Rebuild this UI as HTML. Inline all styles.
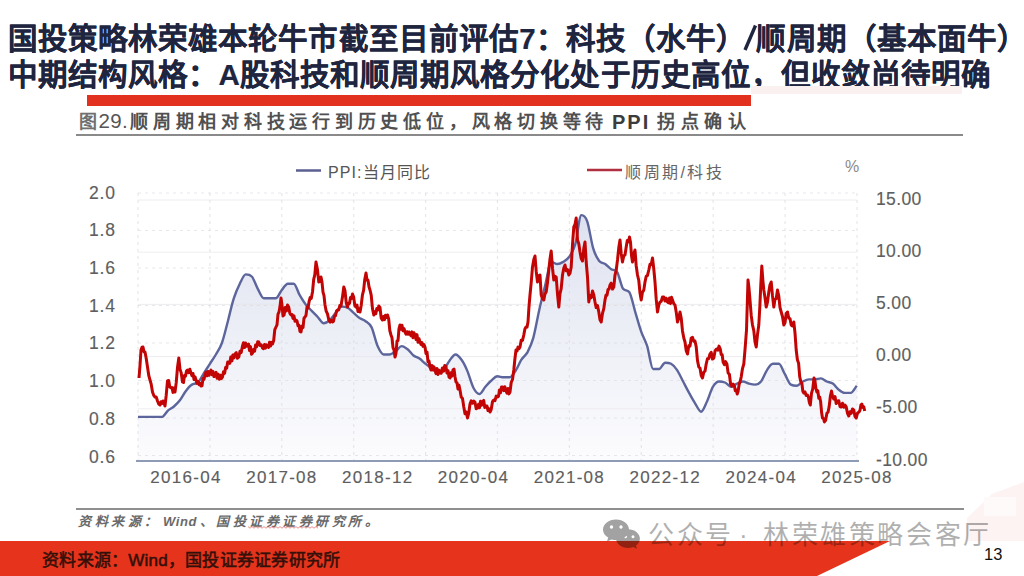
<!DOCTYPE html>
<html lang="zh-CN"><head><meta charset="utf-8">
<style>
html,body{margin:0;padding:0;}
body{width:1024px;height:576px;overflow:hidden;position:relative;background:#fff;font-family:"Liberation Sans",sans-serif;}
.t{position:absolute;white-space:nowrap;line-height:1;}
#t1{left:7.5px;top:23.5px;font-size:29.5px;font-weight:bold;color:#20253f;letter-spacing:0.1px;-webkit-text-stroke:0.2px #20253f;}
#t2{left:8px;top:60px;font-size:29.5px;font-weight:bold;color:#20253f;letter-spacing:0.06px;-webkit-text-stroke:0.2px #20253f;}
#bar{position:absolute;left:87px;top:95px;width:664px;height:11px;background:#e2321f;}
.cap{top:113px;font-size:18px;color:#505050;font-weight:bold;}
.capc{letter-spacing:4.77px;}
#capline{position:absolute;left:76px;top:134px;width:887px;height:2px;background:#8a8a8a;}
.src{top:514.5px;font-size:13px;color:#6a6a6a;font-style:italic;font-weight:bold;letter-spacing:3.5px;}
#srcline{position:absolute;left:76px;top:508px;width:888px;height:2px;background:#8f8f8f;}
#band{position:absolute;left:0;top:0;}
#foot{left:42px;top:551.5px;font-size:17px;color:#34100a;letter-spacing:0.25px;-webkit-text-stroke:0.55px #34100a;}
#pg{left:984px;top:545.5px;font-size:16.5px;color:#111;}
.wm{top:521.5px;font-size:26px;color:#000;opacity:0.31;letter-spacing:2.6px;}
svg text{font-family:"Liberation Sans",sans-serif;}
</style></head><body>
<svg id="band" width="1024" height="576" viewBox="0 0 1024 576">
  <polygon points="967,541 967,518 992,494 1024,482 1024,541" fill="#fdf3f3"/>
  <rect x="984" y="497" width="32" height="19" fill="#fefafa"/>
  <polygon points="0,541 890,541 817,576 0,576" fill="#e5341b"/>
</svg>
<div class="t" id="t1">国投策略林荣雄本轮牛市截至目前评估7：科技（水牛）<span style="display:inline-block;width:10px"></span>顺周期（基本面牛）</div>
<div class="t" id="t2">中期结构风格：A股科技和顺周期风格分化处于历史高位，但收敛尚待明确</div>
<div style="position:absolute;left:751px;top:86px;width:211px;height:8px;background:#fbf0f0"></div>
<div id="bar"></div>
<svg style="position:absolute;left:0;top:0" width="1024" height="576"><line x1="745" y1="50" x2="755.5" y2="25.5" stroke="#20253f" stroke-width="3.4"/></svg>
<div class="t cap" style="left:79px;color:#707070">图</div>
<div class="t cap" style="left:98.5px;top:111px;font-size:20.5px;font-weight:normal;letter-spacing:0.3px;color:#555">29.</div>
<div class="t cap capc" style="left:130px">顺周期相对科技运行到历史低位，风格切换等待</div>
<div class="t cap" style="left:612px;top:112px;font-size:20px;letter-spacing:2px;color:#3c3c3c">PPI</div>
<div class="t cap" style="left:657px;letter-spacing:5.6px">拐点确认</div>
<div id="capline"></div>
<svg style="position:absolute;left:0;top:0" width="1024" height="576" viewBox="0 0 1024 576">
  <defs>
    <linearGradient id="ag" x1="0" y1="0" x2="0" y2="1" gradientUnits="objectBoundingBox">
      <stop offset="0" stop-color="#dee1f0"/>
      <stop offset="0.45" stop-color="#eceef6"/>
      <stop offset="1" stop-color="#fcfcfe"/>
    </linearGradient>
  </defs>
  <path d="M138.0,416.9 C140.0,416.9 142.0,416.9 144.0,416.9 C146.0,416.9 148.0,416.9 150.0,416.9 C152.0,416.9 154.0,416.9 156.0,416.9 C158.0,416.9 160.0,416.9 162.0,416.9 C164.0,416.9 166.0,412.4 167.9,410.6 C169.9,408.9 171.9,408.2 173.9,406.5 C175.9,404.7 177.9,402.8 179.9,400.2 C181.9,397.6 183.9,393.5 185.9,390.9 C187.9,388.3 189.9,385.8 191.9,384.6 C193.9,383.4 195.9,384.2 197.9,382.5 C199.9,380.9 201.9,376.3 203.9,373.2 C205.9,370.1 207.9,366.9 209.9,363.8 C211.9,360.7 213.9,357.9 215.9,354.5 C217.9,351.0 219.9,348.6 221.9,343.0 C223.9,337.5 225.9,328.6 227.9,321.2 C229.8,313.7 231.8,304.5 233.8,298.3 C235.8,292.1 237.8,287.7 239.8,283.7 C241.8,279.8 243.8,274.4 245.8,274.4 C247.8,274.4 249.8,274.4 251.8,276.5 C253.8,278.5 255.8,285.3 257.8,288.9 C259.8,292.6 261.8,298.3 263.8,298.3 C265.8,298.3 267.8,298.3 269.8,298.3 C271.8,298.3 273.8,298.3 275.8,298.3 C277.8,298.3 279.8,292.4 281.8,290.0 C283.8,287.6 285.8,283.7 287.8,283.7 C289.7,283.7 291.7,283.7 293.7,283.7 C295.7,283.7 297.7,291.7 299.7,295.2 C301.7,298.6 303.7,301.9 305.7,304.5 C307.7,307.1 309.7,308.7 311.7,310.8 C313.7,312.9 315.7,314.9 317.7,317.0 C319.7,319.1 321.7,323.3 323.7,323.3 C325.7,323.3 327.7,321.9 329.7,320.1 C331.7,318.4 333.7,315.1 335.7,312.9 C337.7,310.6 339.7,306.6 341.7,306.6 C343.7,306.6 345.7,306.6 347.6,307.7 C349.6,308.7 351.6,311.1 353.6,312.9 C355.6,314.6 357.6,316.7 359.6,318.1 C361.6,319.4 363.6,319.6 365.6,321.2 C367.6,322.7 369.6,323.3 371.6,327.4 C373.6,331.6 375.6,341.6 377.6,346.1 C379.6,350.6 381.6,354.5 383.6,354.5 C385.6,354.5 387.6,354.5 389.6,354.5 C391.6,354.5 393.6,352.7 395.6,351.3 C397.6,350.0 399.6,346.1 401.6,346.1 C403.6,346.1 405.6,347.7 407.6,349.3 C409.5,350.8 411.5,353.9 413.5,355.5 C415.5,357.1 417.5,357.2 419.5,358.6 C421.5,360.0 423.5,362.3 425.5,363.8 C427.5,365.4 429.5,366.6 431.5,368.0 C433.5,369.4 435.5,372.1 437.5,372.1 C439.5,372.1 441.5,372.0 443.5,370.1 C445.5,368.2 447.5,363.3 449.5,360.7 C451.5,358.1 453.5,354.5 455.5,354.5 C457.5,354.5 459.5,356.9 461.5,359.7 C463.5,362.4 465.5,366.4 467.4,371.1 C469.4,375.8 471.4,383.9 473.4,387.7 C475.4,391.6 477.4,394.0 479.4,394.0 C481.4,394.0 483.4,389.0 485.4,386.7 C487.4,384.4 489.4,382.2 491.4,380.5 C493.4,378.7 495.4,376.3 497.4,376.3 C499.4,376.3 501.4,377.3 503.4,377.3 C505.4,377.3 507.4,377.3 509.4,377.3 C511.4,377.3 513.4,374.0 515.4,371.1 C517.4,368.2 519.4,362.8 521.4,359.7 C523.4,356.5 525.4,356.0 527.4,352.4 C529.3,348.7 531.3,344.9 533.3,337.8 C535.3,330.7 537.3,318.6 539.3,309.7 C541.3,300.9 543.3,292.8 545.3,284.8 C547.3,276.8 549.3,261.9 551.3,261.9 C553.3,261.9 555.3,264.0 557.3,264.0 C559.3,264.0 561.3,263.1 563.3,261.9 C565.3,260.7 567.3,259.6 569.3,256.7 C571.3,253.8 573.3,251.2 575.3,244.2 C577.3,237.3 579.3,215.1 581.3,215.1 C583.3,215.1 585.3,215.8 587.2,221.3 C589.2,226.9 591.2,241.8 593.2,248.4 C595.2,255.0 597.2,258.3 599.2,260.9 C601.2,263.5 603.2,262.6 605.2,264.0 C607.2,265.4 609.2,268.0 611.2,269.2 C613.2,270.4 615.2,269.4 617.2,272.3 C619.2,275.2 621.2,286.9 623.2,288.9 C625.2,291.0 627.2,289.7 629.2,292.1 C631.2,294.4 633.2,305.2 635.2,311.8 C637.2,318.4 639.2,325.9 641.2,331.6 C643.2,337.3 645.2,339.9 647.2,346.1 C649.1,352.4 651.1,369.0 653.1,369.0 C655.1,369.0 657.1,369.0 659.1,369.0 C661.1,369.0 663.1,362.8 665.1,362.8 C667.1,362.8 669.1,362.8 671.1,363.8 C673.1,364.9 675.1,367.1 677.1,370.1 C679.1,373.0 681.1,377.7 683.1,381.5 C685.1,385.3 687.1,389.3 689.1,392.9 C691.1,396.6 693.1,400.2 695.1,403.3 C697.1,406.5 699.1,411.7 701.1,411.7 C703.1,411.7 705.1,405.4 707.1,401.3 C709.0,397.1 711.0,390.0 713.0,386.7 C715.0,383.4 717.0,381.5 719.0,381.5 C721.0,381.5 723.0,381.7 725.0,382.5 C727.0,383.4 729.0,386.7 731.0,386.7 C733.0,386.7 735.0,384.4 737.0,383.6 C739.0,382.7 741.0,381.5 743.0,381.5 C745.0,381.5 747.0,383.1 749.0,383.6 C751.0,384.1 753.0,384.6 755.0,384.6 C757.0,384.6 759.0,383.9 761.0,381.5 C763.0,379.1 765.0,373.0 767.0,370.1 C768.9,367.1 770.9,363.8 772.9,363.8 C774.9,363.8 776.9,363.8 778.9,363.8 C780.9,363.8 782.9,370.8 784.9,374.2 C786.9,377.7 788.9,383.6 790.9,384.6 C792.9,385.7 794.9,385.7 796.9,385.7 C798.9,385.7 800.9,382.5 802.9,381.5 C804.9,380.5 806.9,379.4 808.9,379.4 C810.9,379.4 812.9,379.4 814.9,379.4 C816.9,379.4 818.9,378.4 820.9,378.4 C822.9,378.4 824.9,380.6 826.9,381.5 C828.8,382.4 830.8,382.2 832.8,383.6 C834.8,385.0 836.8,388.3 838.8,389.8 C840.8,391.4 842.8,392.9 844.8,392.9 C846.8,392.9 848.8,392.9 850.8,392.9 C852.8,392.9 854.8,388.1 856.8,385.7 L856.8,461 L138.0,461 Z" fill="url(#ag)"/>
  <g stroke="#e6e6ea" stroke-opacity="0.7" stroke-width="1" fill="none"><line x1="138" y1="200.0" x2="857" y2="200.0" />
<line x1="138" y1="252.2" x2="857" y2="252.2" />
<line x1="138" y1="304.4" x2="857" y2="304.4" />
<line x1="138" y1="356.6" x2="857" y2="356.6" />
<line x1="138" y1="408.8" x2="857" y2="408.8" />
<line x1="138" y1="461.0" x2="857" y2="461.0" /></g>
  <g stroke="#d8d8de" stroke-opacity="0.6" stroke-width="1.2" stroke-dasharray="3,4" fill="none"><line x1="138.0" y1="193" x2="138.0" y2="461" />
<line x1="209.9" y1="193" x2="209.9" y2="461" />
<line x1="281.8" y1="193" x2="281.8" y2="461" />
<line x1="353.7" y1="193" x2="353.7" y2="461" />
<line x1="425.6" y1="193" x2="425.6" y2="461" />
<line x1="497.5" y1="193" x2="497.5" y2="461" />
<line x1="569.4" y1="193" x2="569.4" y2="461" />
<line x1="641.3" y1="193" x2="641.3" y2="461" />
<line x1="713.2" y1="193" x2="713.2" y2="461" />
<line x1="785.1" y1="193" x2="785.1" y2="461" />
<line x1="857.0" y1="193" x2="857.0" y2="461" />
<line x1="138" y1="193.0" x2="857" y2="193.0" />
<line x1="138" y1="230.5" x2="857" y2="230.5" />
<line x1="138" y1="268.0" x2="857" y2="268.0" />
<line x1="138" y1="305.5" x2="857" y2="305.5" />
<line x1="138" y1="343.0" x2="857" y2="343.0" />
<line x1="138" y1="380.5" x2="857" y2="380.5" />
<line x1="138" y1="418.0" x2="857" y2="418.0" />
<line x1="138" y1="455.5" x2="857" y2="455.5" /></g>
  <path d="M138.0,416.9 C140.0,416.9 142.0,416.9 144.0,416.9 C146.0,416.9 148.0,416.9 150.0,416.9 C152.0,416.9 154.0,416.9 156.0,416.9 C158.0,416.9 160.0,416.9 162.0,416.9 C164.0,416.9 166.0,412.4 167.9,410.6 C169.9,408.9 171.9,408.2 173.9,406.5 C175.9,404.7 177.9,402.8 179.9,400.2 C181.9,397.6 183.9,393.5 185.9,390.9 C187.9,388.3 189.9,385.8 191.9,384.6 C193.9,383.4 195.9,384.2 197.9,382.5 C199.9,380.9 201.9,376.3 203.9,373.2 C205.9,370.1 207.9,366.9 209.9,363.8 C211.9,360.7 213.9,357.9 215.9,354.5 C217.9,351.0 219.9,348.6 221.9,343.0 C223.9,337.5 225.9,328.6 227.9,321.2 C229.8,313.7 231.8,304.5 233.8,298.3 C235.8,292.1 237.8,287.7 239.8,283.7 C241.8,279.8 243.8,274.4 245.8,274.4 C247.8,274.4 249.8,274.4 251.8,276.5 C253.8,278.5 255.8,285.3 257.8,288.9 C259.8,292.6 261.8,298.3 263.8,298.3 C265.8,298.3 267.8,298.3 269.8,298.3 C271.8,298.3 273.8,298.3 275.8,298.3 C277.8,298.3 279.8,292.4 281.8,290.0 C283.8,287.6 285.8,283.7 287.8,283.7 C289.7,283.7 291.7,283.7 293.7,283.7 C295.7,283.7 297.7,291.7 299.7,295.2 C301.7,298.6 303.7,301.9 305.7,304.5 C307.7,307.1 309.7,308.7 311.7,310.8 C313.7,312.9 315.7,314.9 317.7,317.0 C319.7,319.1 321.7,323.3 323.7,323.3 C325.7,323.3 327.7,321.9 329.7,320.1 C331.7,318.4 333.7,315.1 335.7,312.9 C337.7,310.6 339.7,306.6 341.7,306.6 C343.7,306.6 345.7,306.6 347.6,307.7 C349.6,308.7 351.6,311.1 353.6,312.9 C355.6,314.6 357.6,316.7 359.6,318.1 C361.6,319.4 363.6,319.6 365.6,321.2 C367.6,322.7 369.6,323.3 371.6,327.4 C373.6,331.6 375.6,341.6 377.6,346.1 C379.6,350.6 381.6,354.5 383.6,354.5 C385.6,354.5 387.6,354.5 389.6,354.5 C391.6,354.5 393.6,352.7 395.6,351.3 C397.6,350.0 399.6,346.1 401.6,346.1 C403.6,346.1 405.6,347.7 407.6,349.3 C409.5,350.8 411.5,353.9 413.5,355.5 C415.5,357.1 417.5,357.2 419.5,358.6 C421.5,360.0 423.5,362.3 425.5,363.8 C427.5,365.4 429.5,366.6 431.5,368.0 C433.5,369.4 435.5,372.1 437.5,372.1 C439.5,372.1 441.5,372.0 443.5,370.1 C445.5,368.2 447.5,363.3 449.5,360.7 C451.5,358.1 453.5,354.5 455.5,354.5 C457.5,354.5 459.5,356.9 461.5,359.7 C463.5,362.4 465.5,366.4 467.4,371.1 C469.4,375.8 471.4,383.9 473.4,387.7 C475.4,391.6 477.4,394.0 479.4,394.0 C481.4,394.0 483.4,389.0 485.4,386.7 C487.4,384.4 489.4,382.2 491.4,380.5 C493.4,378.7 495.4,376.3 497.4,376.3 C499.4,376.3 501.4,377.3 503.4,377.3 C505.4,377.3 507.4,377.3 509.4,377.3 C511.4,377.3 513.4,374.0 515.4,371.1 C517.4,368.2 519.4,362.8 521.4,359.7 C523.4,356.5 525.4,356.0 527.4,352.4 C529.3,348.7 531.3,344.9 533.3,337.8 C535.3,330.7 537.3,318.6 539.3,309.7 C541.3,300.9 543.3,292.8 545.3,284.8 C547.3,276.8 549.3,261.9 551.3,261.9 C553.3,261.9 555.3,264.0 557.3,264.0 C559.3,264.0 561.3,263.1 563.3,261.9 C565.3,260.7 567.3,259.6 569.3,256.7 C571.3,253.8 573.3,251.2 575.3,244.2 C577.3,237.3 579.3,215.1 581.3,215.1 C583.3,215.1 585.3,215.8 587.2,221.3 C589.2,226.9 591.2,241.8 593.2,248.4 C595.2,255.0 597.2,258.3 599.2,260.9 C601.2,263.5 603.2,262.6 605.2,264.0 C607.2,265.4 609.2,268.0 611.2,269.2 C613.2,270.4 615.2,269.4 617.2,272.3 C619.2,275.2 621.2,286.9 623.2,288.9 C625.2,291.0 627.2,289.7 629.2,292.1 C631.2,294.4 633.2,305.2 635.2,311.8 C637.2,318.4 639.2,325.9 641.2,331.6 C643.2,337.3 645.2,339.9 647.2,346.1 C649.1,352.4 651.1,369.0 653.1,369.0 C655.1,369.0 657.1,369.0 659.1,369.0 C661.1,369.0 663.1,362.8 665.1,362.8 C667.1,362.8 669.1,362.8 671.1,363.8 C673.1,364.9 675.1,367.1 677.1,370.1 C679.1,373.0 681.1,377.7 683.1,381.5 C685.1,385.3 687.1,389.3 689.1,392.9 C691.1,396.6 693.1,400.2 695.1,403.3 C697.1,406.5 699.1,411.7 701.1,411.7 C703.1,411.7 705.1,405.4 707.1,401.3 C709.0,397.1 711.0,390.0 713.0,386.7 C715.0,383.4 717.0,381.5 719.0,381.5 C721.0,381.5 723.0,381.7 725.0,382.5 C727.0,383.4 729.0,386.7 731.0,386.7 C733.0,386.7 735.0,384.4 737.0,383.6 C739.0,382.7 741.0,381.5 743.0,381.5 C745.0,381.5 747.0,383.1 749.0,383.6 C751.0,384.1 753.0,384.6 755.0,384.6 C757.0,384.6 759.0,383.9 761.0,381.5 C763.0,379.1 765.0,373.0 767.0,370.1 C768.9,367.1 770.9,363.8 772.9,363.8 C774.9,363.8 776.9,363.8 778.9,363.8 C780.9,363.8 782.9,370.8 784.9,374.2 C786.9,377.7 788.9,383.6 790.9,384.6 C792.9,385.7 794.9,385.7 796.9,385.7 C798.9,385.7 800.9,382.5 802.9,381.5 C804.9,380.5 806.9,379.4 808.9,379.4 C810.9,379.4 812.9,379.4 814.9,379.4 C816.9,379.4 818.9,378.4 820.9,378.4 C822.9,378.4 824.9,380.6 826.9,381.5 C828.8,382.4 830.8,382.2 832.8,383.6 C834.8,385.0 836.8,388.3 838.8,389.8 C840.8,391.4 842.8,392.9 844.8,392.9 C846.8,392.9 848.8,392.9 850.8,392.9 C852.8,392.9 854.8,388.1 856.8,385.7" fill="none" stroke="#5c659c" stroke-width="2.4" stroke-linejoin="round"/>
  <path d="M139.0,378.0 L140.0,365.7 L141.0,350.0 L142.0,347.2 L143.0,347.0 L144.0,351.9 L145.0,352.0 L146.2,358.3 L147.5,367.0 L148.8,375.7 L150.0,380.0 L151.2,384.2 L152.5,392.0 L153.8,395.6 L155.0,397.0 L156.2,396.9 L157.5,401.0 L158.8,404.1 L160.0,405.0 L161.0,401.7 L162.0,403.5 L163.0,401.0 L164.0,402.3 L165.0,406.0 L166.2,395.4 L167.5,381.0 L168.7,380.5 L169.8,386.9 L171.0,388.0 L172.0,387.5 L173.0,392.4 L174.0,387.9 L175.0,392.0 L176.2,382.9 L177.5,367.5 L178.8,358.0 L180.0,369.1 L181.2,372.9 L182.5,382.0 L183.5,382.5 L184.5,375.6 L185.5,376.1 L186.5,371.1 L187.5,370.0 L188.7,372.7 L189.8,369.2 L191.0,373.0 L192.0,375.8 L193.0,373.5 L194.0,379.6 L195.0,376.8 L196.0,380.0 L197.0,383.4 L198.0,381.3 L199.0,384.7 L200.0,383.3 L201.0,386.0 L202.0,385.7 L203.0,378.6 L204.0,379.4 L205.0,375.0 L206.0,372.1 L207.0,375.8 L208.0,371.5 L209.0,375.3 L210.0,372.0 L211.0,370.1 L212.0,374.7 L213.0,371.5 L214.0,376.6 L215.0,375.0 L216.1,372.4 L217.1,378.2 L218.2,374.2 L219.3,379.3 L220.4,375.2 L221.4,378.6 L222.5,377.0 L223.5,371.8 L224.6,373.3 L225.6,367.4 L226.7,368.1 L227.7,362.0 L228.8,362.0 L229.8,363.3 L230.8,357.1 L231.9,360.9 L232.9,355.0 L234.0,357.9 L235.0,354.0 L236.2,352.7 L237.5,358.3 L238.8,357.0 L240.0,351.3 L241.2,352.5 L242.5,346.0 L243.5,342.7 L244.5,347.6 L245.5,342.9 L246.5,346.3 L247.5,345.0 L248.5,344.1 L249.5,350.6 L250.5,346.6 L251.5,354.2 L252.5,353.0 L253.5,349.5 L254.6,351.2 L255.6,345.0 L256.7,346.7 L257.7,341.8 L258.8,342.0 L260.0,345.4 L261.2,344.7 L262.5,348.0 L263.5,348.7 L264.5,344.5 L265.5,348.1 L266.5,344.9 L267.5,346.0 L268.5,347.5 L269.5,342.3 L270.5,346.0 L271.5,342.4 L272.5,344.0 L273.7,340.5 L274.8,329.7 L276.0,327.0 L277.0,324.8 L278.0,314.1 L279.0,312.0 L280.0,306.6 L281.0,298.0 L282.0,305.1 L283.0,316.0 L284.1,315.0 L285.2,307.6 L286.4,310.9 L287.5,305.0 L288.7,307.0 L289.8,313.1 L291.0,315.0 L292.0,314.5 L293.0,318.5 L294.0,315.9 L295.0,321.3 L296.0,320.0 L297.0,320.8 L298.0,325.8 L299.0,325.3 L300.0,331.4 L301.0,332.0 L302.0,326.0 L303.0,327.6 L304.0,318.2 L305.0,317.0 L306.0,315.4 L307.0,307.1 L308.0,308.2 L309.0,302.0 L310.2,297.5 L311.3,298.3 L312.5,292.0 L313.7,279.3 L314.8,274.9 L316.0,262.0 L317.4,269.2 L318.8,282.0 L319.9,281.4 L321.0,277.0 L322.0,282.1 L323.0,292.2 L324.0,295.6 L325.0,305.0 L326.2,311.1 L327.5,313.9 L328.8,320.0 L330.0,322.1 L331.2,320.0 L332.5,322.0 L333.5,321.3 L334.5,316.1 L335.5,315.8 L336.5,311.1 L337.5,310.0 L338.7,309.9 L339.8,305.5 L341.0,306.0 L342.4,297.6 L343.8,287.0 L345.0,290.7 L346.2,302.7 L347.5,307.0 L348.5,303.1 L349.5,303.4 L350.5,297.4 L351.5,298.4 L352.5,294.0 L353.7,297.1 L354.8,305.5 L356.0,307.0 L357.0,305.1 L358.0,311.5 L359.0,308.7 L360.0,312.0 L361.2,305.4 L362.4,295.2 L363.6,290.4 L364.8,279.2 L366.0,273.0 L367.0,280.1 L368.0,280.1 L369.0,286.8 L370.0,290.0 L371.2,295.2 L372.5,308.8 L373.8,315.0 L374.8,311.9 L375.8,313.6 L376.8,308.5 L377.8,310.0 L378.8,306.0 L380.0,307.5 L381.2,318.2 L382.5,320.0 L383.5,316.5 L384.5,319.6 L385.5,315.2 L386.5,317.4 L387.5,315.0 L388.7,319.0 L389.8,330.5 L391.0,335.0 L392.0,337.8 L393.0,347.7 L394.0,350.0 L395.0,357.0 L396.0,353.4 L397.0,341.0 L398.0,340.7 L399.0,328.6 L400.0,325.0 L401.0,329.2 L402.0,325.2 L403.0,330.7 L404.0,328.5 L405.0,332.0 L406.0,334.2 L407.0,331.7 L408.0,334.3 L409.0,332.0 L410.0,334.0 L411.0,335.8 L412.0,331.9 L413.0,337.7 L414.0,332.8 L415.0,335.0 L416.0,339.5 L417.0,334.6 L418.0,342.3 L419.0,338.8 L420.0,342.0 L421.0,344.5 L422.0,342.5 L423.0,346.4 L424.0,344.6 L425.0,347.0 L426.0,353.4 L427.0,352.0 L428.0,361.8 L429.0,360.9 L430.0,367.0 L431.0,370.0 L432.0,365.4 L433.0,370.0 L434.0,366.9 L435.0,370.0 L436.0,373.6 L437.0,368.5 L438.0,374.5 L439.0,370.3 L440.0,373.0 L441.2,373.2 L442.4,367.9 L443.6,371.1 L444.8,365.4 L446.0,367.0 L447.0,372.9 L448.0,370.6 L449.0,377.1 L450.0,378.0 L451.0,372.7 L452.0,376.1 L453.0,369.9 L454.0,369.0 L455.0,376.8 L456.0,382.0 L457.0,382.7 L458.0,389.0 L459.0,385.2 L460.0,390.0 L461.2,397.0 L462.5,398.5 L463.8,407.0 L465.0,413.8 L466.2,411.9 L467.5,418.0 L468.8,412.8 L470.0,404.0 L471.2,400.8 L472.5,403.3 L473.8,401.0 L475.0,402.3 L476.2,408.8 L477.5,408.0 L478.5,404.4 L479.5,407.8 L480.5,401.3 L481.5,405.2 L482.5,402.0 L483.7,400.4 L484.8,407.5 L486.0,406.0 L487.0,406.0 L488.0,410.6 L489.0,408.9 L490.0,412.0 L491.2,409.5 L492.5,401.7 L493.8,400.0 L495.0,400.6 L496.2,396.1 L497.5,397.0 L498.5,396.3 L499.5,390.0 L500.5,392.8 L501.5,387.0 L502.5,387.0 L503.7,390.6 L504.8,386.7 L506.0,391.0 L507.0,393.2 L508.0,388.5 L509.0,393.9 L510.0,392.0 L511.2,382.5 L512.5,379.5 L513.8,370.0 L514.9,359.0 L516.0,350.0 L517.0,351.2 L518.0,347.1 L519.0,348.8 L520.0,347.0 L521.2,340.2 L522.5,340.4 L523.8,335.0 L524.9,329.0 L526.0,327.0 L527.0,327.1 L528.0,322.0 L529.0,306.3 L530.0,295.0 L531.2,282.7 L532.5,267.0 L533.8,259.4 L535.0,256.0 L536.2,271.2 L537.5,282.0 L538.8,275.8 L540.0,275.0 L541.2,295.0 L542.5,298.7 L543.8,300.0 L545.0,293.8 L546.2,292.0 L547.5,282.5 L548.8,270.0 L550.0,258.9 L551.2,251.0 L552.5,268.2 L553.8,280.0 L555.0,276.4 L556.2,277.0 L557.5,294.2 L558.8,307.0 L560.0,293.7 L561.2,288.7 L562.5,275.0 L563.8,268.0 L565.0,265.0 L566.2,270.7 L567.5,269.6 L568.8,275.0 L570.0,273.1 L571.2,267.0 L572.5,244.5 L573.8,227.0 L575.0,224.5 L576.2,218.0 L577.5,240.0 L578.8,243.8 L580.0,252.0 L581.2,258.6 L582.5,261.0 L583.8,248.4 L585.0,242.0 L586.2,262.0 L587.5,277.0 L588.8,302.0 L590.0,295.4 L591.2,297.7 L592.5,291.0 L593.8,294.9 L595.0,302.0 L596.2,307.6 L597.5,305.6 L598.8,312.0 L600.0,319.8 L601.2,322.0 L602.5,313.4 L603.8,308.6 L605.0,300.0 L606.0,295.0 L607.0,295.2 L608.0,289.5 L609.0,289.2 L610.0,285.0 L611.2,283.2 L612.5,289.1 L613.8,287.0 L615.0,275.0 L616.2,270.3 L617.5,260.0 L618.8,247.4 L620.0,240.0 L621.2,253.5 L622.5,262.0 L623.8,255.7 L625.0,254.9 L626.2,247.0 L627.3,240.5 L628.4,241.8 L629.5,237.0 L630.5,242.2 L631.5,255.5 L632.5,262.0 L633.8,253.9 L635.0,250.0 L636.2,265.7 L637.5,275.0 L638.8,280.5 L640.0,293.0 L641.2,300.0 L642.5,292.1 L643.8,290.1 L645.0,282.0 L646.2,276.3 L647.5,275.4 L648.8,270.0 L650.0,264.3 L651.2,264.6 L652.5,258.0 L653.8,269.0 L655.0,282.0 L656.2,299.2 L657.5,312.0 L658.8,305.0 L660.0,302.0 L661.2,301.4 L662.5,296.9 L663.8,297.0 L665.0,301.0 L666.2,298.2 L667.5,302.0 L668.5,302.7 L669.5,298.0 L670.5,303.5 L671.5,297.3 L672.5,300.0 L673.8,303.7 L675.0,305.0 L676.2,311.9 L677.5,322.0 L678.8,318.1 L680.0,312.0 L681.2,318.0 L682.5,330.9 L683.8,338.0 L685.0,342.0 L686.2,350.6 L687.5,354.0 L688.8,345.7 L690.0,346.1 L691.2,338.0 L692.5,337.4 L693.8,341.3 L695.0,341.0 L696.2,346.6 L697.5,360.6 L698.8,367.0 L700.0,368.1 L701.2,375.5 L702.5,378.0 L703.8,372.2 L705.0,371.2 L706.2,364.0 L707.5,358.7 L708.8,358.5 L710.0,354.0 L711.2,352.3 L712.5,359.1 L713.8,358.0 L715.1,350.7 L716.5,349.0 L717.8,350.2 L719.0,346.1 L720.3,349.0 L721.2,354.5 L722.2,354.8 L723.1,362.0 L724.4,364.7 L725.6,361.6 L726.9,364.0 L728.1,372.9 L729.4,374.3 L730.6,384.0 L731.9,386.3 L733.1,384.0 L734.4,386.0 L735.3,390.8 L736.3,389.8 L737.2,394.0 L738.1,391.2 L739.1,384.6 L740.0,382.0 L741.2,377.1 L742.5,368.6 L743.8,364.0 L745.1,348.7 L746.5,330.0 L748.0,280.0 L749.0,288.3 L750.0,300.0 L751.2,315.2 L752.5,325.0 L753.8,330.7 L755.0,341.8 L756.2,347.0 L757.5,334.6 L758.8,325.0 L759.8,307.1 L760.8,284.6 L761.8,266.0 L762.8,279.6 L763.8,290.0 L765.0,297.5 L766.2,307.0 L767.5,302.1 L768.8,292.0 L770.0,284.8 L771.2,282.0 L772.5,295.9 L773.8,307.0 L775.0,299.3 L776.2,298.7 L777.5,290.0 L778.8,296.1 L780.0,307.5 L781.2,312.0 L782.5,316.5 L783.8,325.0 L785.0,322.8 L786.2,313.5 L787.5,312.0 L788.8,318.2 L790.0,318.6 L791.2,325.0 L792.5,326.0 L793.8,322.0 L795.0,332.8 L796.2,350.0 L797.4,359.8 L798.6,363.2 L799.7,376.6 L800.9,382.0 L801.9,383.3 L802.8,391.2 L803.8,393.0 L805.0,391.9 L806.2,395.5 L807.5,395.0 L808.4,397.0 L809.4,402.8 L810.3,405.0 L811.5,393.4 L812.8,388.6 L814.0,378.0 L815.0,381.3 L815.9,388.5 L816.9,392.0 L817.8,390.8 L818.8,398.2 L819.7,397.0 L820.6,401.5 L821.6,412.6 L822.5,418.0 L823.5,418.5 L824.4,422.0 L825.6,420.3 L826.9,413.3 L828.1,412.0 L829.2,406.3 L830.4,396.0 L831.5,391.0 L832.6,396.6 L833.8,399.0 L835.0,396.6 L836.2,403.5 L837.5,401.0 L838.8,400.8 L840.0,406.5 L841.2,407.0 L842.5,403.2 L843.8,407.3 L845.0,405.0 L846.2,406.9 L847.5,413.3 L848.8,416.0 L850.0,411.8 L851.2,413.4 L852.5,409.0 L853.8,409.9 L855.0,416.4 L856.2,418.0 L857.6,412.9 L859.0,412.0 L860.0,410.3 L860.9,405.1 L861.9,404.0 L862.8,407.5 L863.8,406.8 L864.7,411.0" fill="none" stroke="#c20404" stroke-width="3" stroke-linejoin="round"/>
  <line x1="136" y1="461" x2="859" y2="461" stroke="#8d9bb5" stroke-width="2"/>
  <g font-size="17.5" fill="#5e5e5e" stroke="#5e5e5e" stroke-width="0.15" letter-spacing="0.9" text-anchor="end"><text x="116" y="198.5">2.0</text><text x="116" y="236.2">1.8</text><text x="116" y="273.9">1.6</text><text x="116" y="311.6">1.4</text><text x="116" y="349.4">1.2</text><text x="116" y="387.1">1.0</text><text x="116" y="424.8">0.8</text><text x="116" y="462.5">0.6</text></g>
  <g font-size="17.5" fill="#5e5e5e" stroke="#5e5e5e" stroke-width="0.15" letter-spacing="0.35"><text x="876" y="204.5">15.00</text><text x="876" y="256.7">10.00</text><text x="876" y="308.9">5.00</text><text x="876" y="361.1">0.00</text><text x="876" y="413.3">-5.00</text><text x="876" y="465.5">-10.00</text></g>
  <g font-size="17" fill="#5e5e5e" stroke="#5e5e5e" stroke-width="0.15" letter-spacing="1.3" text-anchor="middle"><text x="186.0" y="483">2016-04</text><text x="281.9" y="483">2017-08</text><text x="377.7" y="483">2018-12</text><text x="473.6" y="483">2020-04</text><text x="569.4" y="483">2021-08</text><text x="665.3" y="483">2022-12</text><text x="761.2" y="483">2024-04</text><text x="857.0" y="483">2025-08</text></g>
  <text x="852" y="172" font-size="16" fill="#8a8a8a" text-anchor="middle">%</text>
  <line x1="296" y1="170.5" x2="321" y2="170.5" stroke="#5a5f90" stroke-width="2.5"/>
  <text x="328" y="178" font-size="16" fill="#555" letter-spacing="1.1">PPI:当月同比</text>
  <line x1="587" y1="170" x2="622" y2="170" stroke="#b03040" stroke-width="2.5"/>
  <text x="625" y="178" font-size="16" fill="#666" letter-spacing="2.5">顺周期/科技</text>
</svg>
<div id="srcline"></div>
<div class="t src" style="left:78px">资料来源：</div>
<div class="t src" style="left:163px;letter-spacing:0.6px">Wind</div>
<div class="t src" style="left:200px">、</div>
<div class="t src" style="left:216px">国投证券证券研究所。</div>
<svg style="position:absolute;left:0;top:0" width="1024" height="576"><polyline points="248.0,526.6 250.0,528.2 252.0,526.6 254.0,528.2 256.0,526.6 258.0,528.2 260.0,526.6 262.0,528.2 264.0,526.6 266.0,528.2 268.0,526.6 270.0,528.2 272.0,526.6 274.0,528.2 276.0,526.6 278.0,528.2 280.0,526.6 282.0,528.2 284.0,526.6 286.0,528.2 288.0,526.6 290.0,528.2 292.0,526.6 294.0,528.2 296.0,526.6 298.0,528.2 300.0,526.6 302.0,528.2 304.0,526.6 306.0,528.2 308.0,526.6 310.0,528.2 312.0,526.6 314.0,528.2 316.0,526.6 318.0,528.2" fill="none" stroke="#e05050" stroke-opacity="0.7" stroke-width="0.9"/></svg>
<div class="t" id="foot">资料来源：Wind，国投证券证券研究所</div>
<svg style="position:absolute;left:600px;top:515px;opacity:0.36" width="50" height="40" viewBox="0 0 50 40">
  <path fill="#000" fill-rule="evenodd" d="M16,4.6 C23.2,4.6 29,9.2 29,14.8 C29,20.4 23.2,25 16,25 C14.5,25 13,24.8 11.6,24.4 L7,26.5 L8.2,22.6 C5,20.8 3,18 3,14.8 C3,9.2 8.8,4.6 16,4.6 Z M11.5,10.3 a1.7,1.7 0 1,0 0.01,0 Z M21,10.3 a1.7,1.7 0 1,0 0.01,0 Z"/>
  <path fill="#000" fill-rule="evenodd" stroke="#fff" stroke-width="0" d="M28,14.2 C34.6,14.2 39.9,18.4 39.9,23.6 C39.9,26.4 38.4,28.9 36,30.6 L37,33.8 L33.2,32 C31.6,32.7 29.8,33 28,33 C21.4,33 16.1,28.8 16.1,23.6 C16.1,18.4 21.4,14.2 28,14.2 Z M25.5,20.3 a1.5,1.5 0 1,0 0.01,0 Z M33,20.3 a1.5,1.5 0 1,0 0.01,0 Z"/>
</svg>
<div class="t wm" style="left:648px">公众号</div>
<div class="t wm" style="left:739px">·</div>
<div class="t wm" style="left:763px">林荣雄策略会客厅</div>
<div class="t" id="pg">13</div>
</body></html>
